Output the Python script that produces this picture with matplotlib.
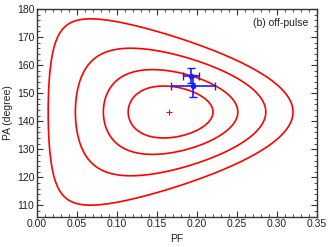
import numpy as np
import matplotlib
matplotlib.use("Agg")
import matplotlib.pyplot as plt
from matplotlib.ticker import MultipleLocator, FormatStrFormatter

plt.rcParams['font.family'] = ['Liberation Sans', 'DejaVu Sans']

# centre of the confidence region (true PF, PA)
pf0 = 0.167
pa0 = 143.3
# contour radii in Q-U space (inner -> outer)
radii = [0.053, 0.084, 0.119, 0.153]

# measured points
pf_pts = [0.192, 0.195]
pa_pts = [156.3, 152.6]
pf_err = [0.010, 0.028]
pa_err = [2.6, 4.0]

# marker of the centre
pf_c = [0.1646]
pa_c = [143.2]

label = "(b) off-pulse"

fig = plt.figure(figsize=(3.32, 2.47), dpi=100)
ax = fig.add_axes([0.1114, 0.1227, 0.8434, 0.8409])

pf = np.linspace(0.0, 0.35, 700)
pa = np.linspace(100, 185, 700)
P, A = np.meshgrid(pf, pa)
phi = np.deg2rad(2 * (A - pa0))
dist = np.sqrt(P**2 + pf0**2 - 2 * P * pf0 * np.cos(phi))
ax.contour(P, A, dist, levels=radii, colors='#ff0000', linewidths=1.2)

ax.plot(pf_c, pa_c, '+', color='#ff0000', ms=4, mew=0.8)
ax.errorbar(pf_pts, pa_pts, xerr=pf_err, yerr=pa_err, fmt='o', color='#1a1aff',
            ms=3, elinewidth=1.2, capsize=3, capthick=1.0)

ax.set_xlim(0, 0.35)
ax.set_ylim(106, 180)
ax.xaxis.set_major_locator(MultipleLocator(0.05))
ax.xaxis.set_minor_locator(MultipleLocator(0.01))
ax.yaxis.set_major_locator(MultipleLocator(10))
ax.yaxis.set_minor_locator(MultipleLocator(2))
ax.xaxis.set_major_formatter(FormatStrFormatter('%.2f'))
ax.tick_params(which='both', direction='in', top=True, right=True, labelsize=7.5,
               color='#333333', labelcolor='#222222', pad=2)
ax.tick_params(which='major', length=4, width=0.8)
ax.tick_params(which='minor', length=2, width=0.6)
for s in ax.spines.values():
    s.set_linewidth(1.0)
    s.set_color('#333333')

ax.set_xlabel('PF', fontsize=7.5, labelpad=3, color='#222222')
ax.set_ylabel('PA (degree)', fontsize=7.5, labelpad=3, color='#222222')
ax.text(0.97, 0.955, label, transform=ax.transAxes, ha='right', va='top',
        fontsize=7.5, color='#222222')

fig.savefig('out.png', dpi=100)
